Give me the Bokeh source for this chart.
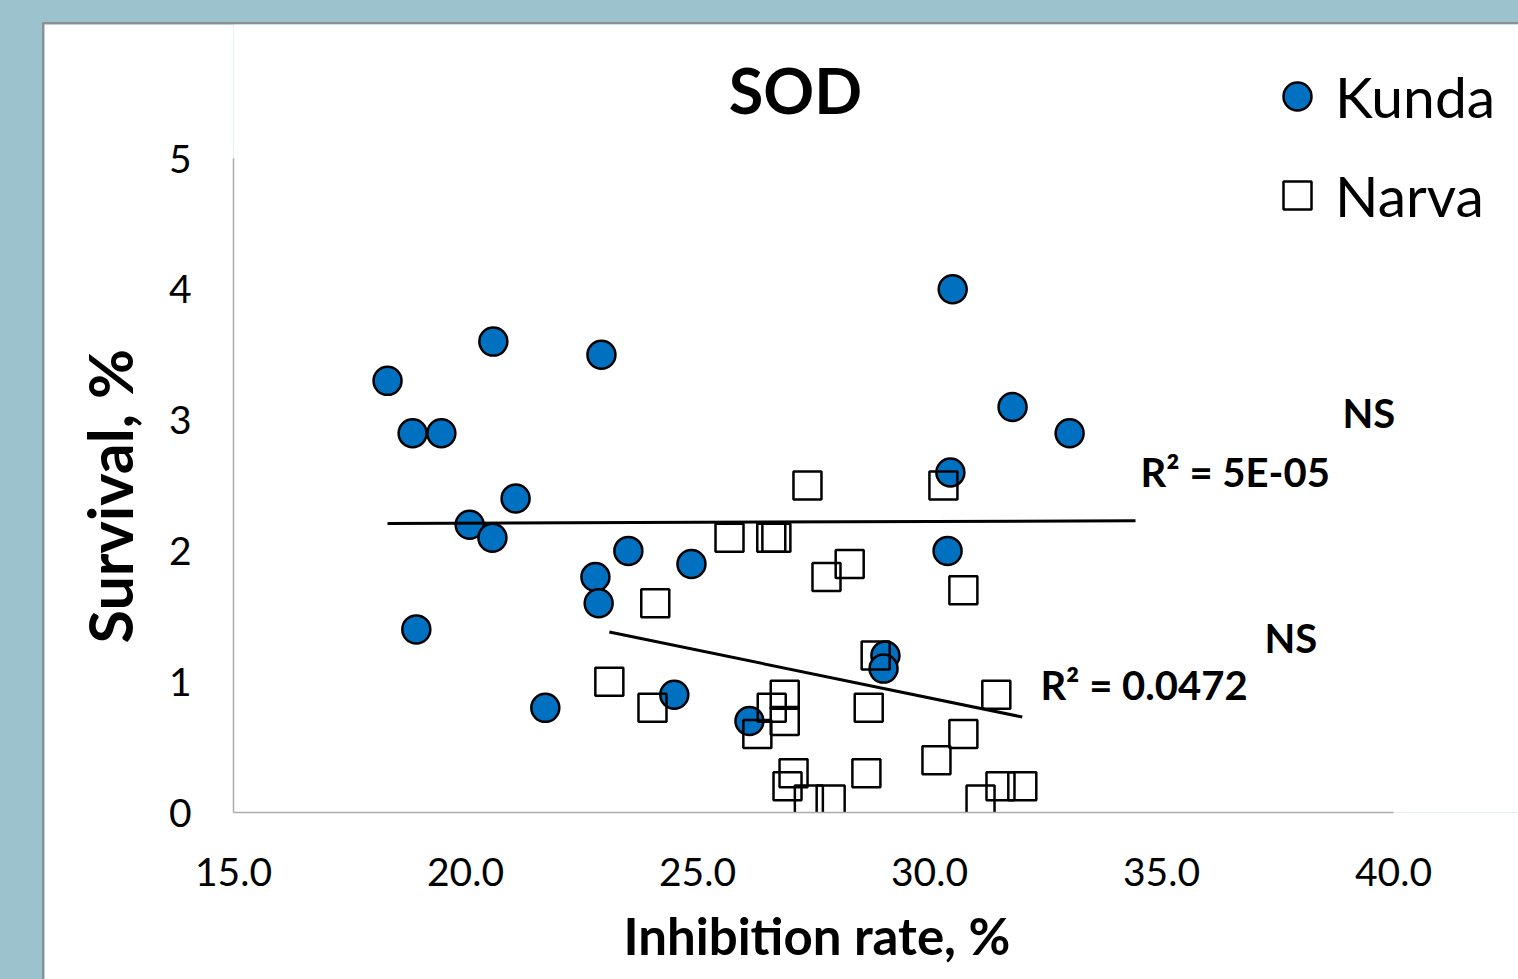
from bokeh.plotting import figure
from bokeh.models import (Range1d, FixedTicker, NumeralTickFormatter, Label,
                          Legend, LegendItem, Title)
from bokeh.layouts import column
from bokeh.embed import file_html
from bokeh.resources import INLINE

# ---- data ----
kunda_x = [18.32, 18.86, 19.48, 20.60, 22.93, 21.08, 20.09, 20.58, 18.94, 21.72,
           23.51, 24.87, 22.80, 22.87, 24.50, 26.12, 30.50, 31.79, 33.02, 30.45,
           30.39, 29.05, 29.01]
kunda_y = [3.3, 2.9, 2.9, 3.6, 3.5, 2.4, 2.2, 2.1, 1.4, 0.8,
           2.0, 1.9, 1.8, 1.6, 0.9, 0.7, 4.0, 3.1, 2.9, 2.6,
           2.0, 1.2, 1.1]

narva_x = [27.37, 25.69, 26.59, 26.70, 27.78, 28.28, 24.09, 23.10, 24.03, 28.84,
           28.69, 26.88, 26.60, 26.88, 26.29, 31.44, 30.73, 30.15, 28.64, 27.07,
           26.94, 27.40, 27.87, 31.10, 31.53, 32.00, 30.30, 30.73]
narva_y = [2.5, 2.1, 2.1, 2.1, 1.8, 1.9, 1.6, 1.0, 0.8, 1.2,
           0.8, 0.9, 0.8, 0.7, 0.6, 0.9, 0.6, 0.4, 0.3, 0.3,
           0.2, 0.1, 0.1, 0.1, 0.2, 0.2, 2.5, 1.7]

kunda_trend_x = [18.32, 34.44]
kunda_trend_y = [2.21, 2.23]
narva_trend_x = [23.10, 32.00]
narva_trend_y = [1.38, 0.73]

x_ticks = [15, 20, 25, 30, 35, 40]
y_ticks = [0, 1, 2, 3, 4, 5]
x_axis_bounds = (15, 40)
y_axis_bounds = (0, 5)

series_names = ["Kunda", "Narva"]
title_text = "SOD"
x_title = "Inhibition rate, %"
y_title = "Survival, %"
kunda_r2 = "R\u00b2 = 5E-05"
narva_r2 = "R\u00b2 = 0.0472"
sig_text = "NS"

FONT = "Lato"
BLUE = "#0070c0"

# frame is extended to the figure's right and top edges so that the title,
# legend and labels are not clipped; the axes are limited by their bounds.
p = figure(width=1474, height=955,
           x_range=Range1d(15, 42.694), y_range=Range1d(0, 6.0245),
           output_backend="svg", toolbar_location=None,
           min_border_left=189, min_border_right=0,
           min_border_top=0, min_border_bottom=167,
           background_fill_color="white", border_fill_color="white")
p.margin = (24, 0, 0, 44)
p.styles = {"outline": "2px solid #8f8f8f"}
p.outline_line_color = None
p.xgrid.visible = False
p.ygrid.visible = False

for ax in (p.xaxis[0], p.yaxis[0]):
    ax.axis_line_color = "#ababab"
    ax.axis_line_width = 1.5
    ax.major_tick_line_color = None
    ax.minor_tick_line_color = None
    ax.major_tick_out = 0
    ax.major_tick_in = 0
    ax.major_label_text_font = FONT
    ax.major_label_text_font_size = "39px"
    ax.major_label_text_color = "black"

p.xaxis.bounds = x_axis_bounds
p.yaxis.bounds = y_axis_bounds
p.xaxis.ticker = FixedTicker(ticks=x_ticks)
p.yaxis.ticker = FixedTicker(ticks=y_ticks)
p.xaxis.formatter = NumeralTickFormatter(format="0.0")
p.xaxis.major_label_standoff = 45
p.yaxis.major_label_standoff = 42

# axis titles as side-panel titles, aligned to the axis extent
p.add_layout(Title(text=x_title, align="left", offset=390, standoff=28,
                   text_font=FONT, text_font_style="bold",
                   text_font_size="51px", text_color="black"), "below")
p.add_layout(Title(text=y_title, align="left", offset=169, standoff=39,
                   text_font=FONT, text_font_style="bold",
                   text_font_size="61px", text_color="black"), "left")

r1 = p.scatter(kunda_x, kunda_y, marker="circle", size=28,
               fill_color=BLUE, line_color="black", line_width=2.5)
r2 = p.scatter(narva_x, narva_y, marker="square", size=28,
               fill_alpha=0, line_color="black", line_width=2.5)

p.line(kunda_trend_x, kunda_trend_y, line_color="black", line_width=3)
p.line(narva_trend_x, narva_trend_y, line_color="black", line_width=3)

legend = Legend(items=[LegendItem(label=series_names[0], renderers=[r1]),
                       LegendItem(label=series_names[1], renderers=[r2])],
                location=(1029, 582), orientation="vertical",
                glyph_width=70, glyph_height=70, label_height=70,
                label_standoff=3, spacing=29, padding=0, margin=0,
                border_line_color=None, background_fill_alpha=0,
                label_text_font=FONT, label_text_font_size="57px",
                label_text_color="black")
p.add_layout(legend)


def add_text(x, y, text, size, align="left"):
    p.add_layout(Label(x=x, y=y, text=text, text_font=FONT,
                       text_font_style="bold", text_font_size=size,
                       text_align=align, text_baseline="alphabetic",
                       text_color="black"))


add_text(27.11, 5.527, title_text, "63px", align="center")
add_text(38.90, 3.051, sig_text, "40px")
add_text(34.55, 2.600, kunda_r2, "40px")
add_text(37.22, 1.331, sig_text, "40px")
add_text(32.39, 0.971, narva_r2, "40px")

page = column(p, styles={"background-color": "#9cc2cd"})
page.margin = 0

open("out.html", "w").write(file_html(page, INLINE))
